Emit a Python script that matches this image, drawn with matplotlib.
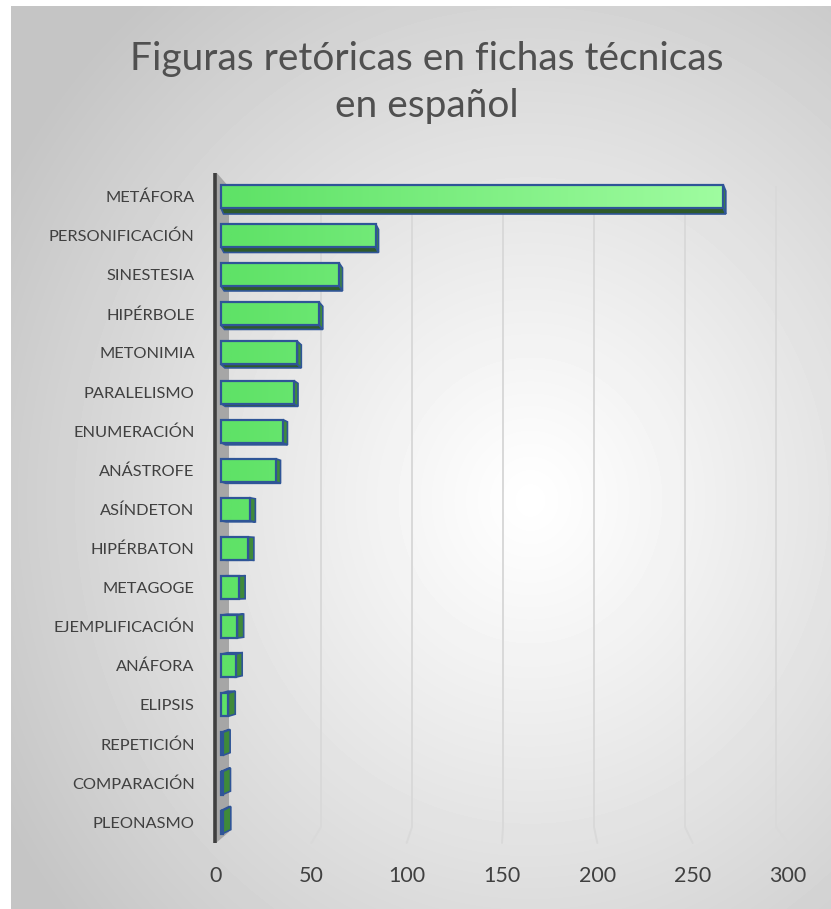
import numpy as np
import matplotlib
matplotlib.use("Agg")
import matplotlib.pyplot as plt
from matplotlib.patches import Polygon, Rectangle, ConnectionPatch
from matplotlib.colors import LinearSegmentedColormap

# ---------------- data ----------------
categories = ["METÁFORA", "PERSONIFICACIÓN", "SINESTESIA", "HIPÉRBOLE", "METONIMIA",
              "PARALELISMO", "ENUMERACIÓN", "ANÁSTROFE", "ASÍNDETON", "HIPÉRBATON",
              "METAGOGE", "EJEMPLIFICACIÓN", "ANÁFORA", "ELIPSIS", "REPETICIÓN",
              "COMPARACIÓN", "PLEONASMO"]
values = [276, 85, 65, 54, 42, 40, 34, 30, 16, 15, 10, 9, 8, 4, 1, 1, 1]
x_ticks = [0, 50, 100, 150, 200, 250, 300]
title_lines = ["Figuras retóricas en fichas técnicas", "en español"]

# ---------------- layout (pixels) ----------------
W, H = 831, 909
FONT = "Lato"
TXT = "#404040"

def frect(l, t, r, b):
    return [l / W, 1 - b / H, (r - l) / W, (b - t) / H]

fig = plt.figure(figsize=(W / 100, H / 100), dpi=100, facecolor="white")

# background radial gradient
bg = fig.add_axes(frect(11, 6, 831, 909))
yy, xx = np.mgrid[6:909, 11:831].astype(float)
r = np.sqrt(((xx - 530) / 480) ** 2 + ((yy - 500) / 520) ** 2)
val = 255 - 58 * np.clip(r / 1.25, 0, 1) ** 1.1
bg.imshow(val, cmap="gray", vmin=0, vmax=255, aspect="auto",
          extent=(11, 831, 909, 6), interpolation="bilinear")
bg.set_axis_off()

# main plot axes (wall / bar plane)
L, T, R, B = 212, 173, 800, 843
PX = 1.82        # px per unit on the wall
X0PX = 230       # pixel of value 0 on the wall
ROW0, ROWPX = 196.5, 39.1
ax = fig.add_axes(frect(L, T, R, B))
ax.patch.set_alpha(0)
for s in ax.spines.values():
    s.set_visible(False)
xlim = ((L - X0PX) / PX, (R - X0PX) / PX)
ylim = ((B - ROW0) / ROWPX, (T - ROW0) / ROWPX)

def ux(px):  # pixel x -> data x
    return (px - X0PX) / PX

def uy(py):  # pixel y -> data y
    return (py - ROW0) / ROWPX

# tick-label axes (front edge of the floor)
tax = fig.add_axes(frect(216, 843, 788, 860))
tax.patch.set_alpha(0)
for s in tax.spines.values():
    s.set_visible(False)
tax.set_xlim(0, 300)
tax.set_ylim(0, 1)
tax.set_yticks([])
tax.set_xticks(x_ticks)
tax.set_xticklabels([str(t) for t in x_ticks], fontsize=15.5, color=TXT, family=FONT)
tax.tick_params(axis="x", length=0, pad=4)

# gridlines on the wall + floor diagonals
yg_top, yg_bot = uy(186), uy(827)
for g in x_ticks[1:]:
    ax.plot([g, g], [yg_top, yg_bot], color="#D9D9D9", lw=1.4, zorder=1, solid_capstyle="butt")
    con = ConnectionPatch(xyA=(g, yg_bot), coordsA=ax.transData,
                          xyB=(g, 1), coordsB=tax.transData,
                          color="#D9D9D9", lw=1.4)
    fig.add_artist(con)

# left wall strip + axis line
wall = Polygon([(ux(216), uy(172)), (ux(229), uy(187)), (ux(229), uy(832)), (ux(216), uy(843))],
               closed=True, fc="#A6A6A6", ec="none", zorder=2)
ax.add_patch(wall)
ax.plot([ux(215), ux(215)], [uy(171), uy(843)], color="#3F3F3F", lw=2.6, zorder=6,
        solid_capstyle="butt")

# bars with pseudo-3D faces
cmap = LinearSegmentedColormap.from_list("g", ["#5FE267", "#A6FFA6"])
EDGE = "#2F5597"
h = 23 / ROWPX
off = 9 / PX
n = len(values)
for i, v in enumerate(values):
    c = i
    dxp = 2.5 + 5.5 * i / (n - 1)
    dyp = 6.0 - 10.0 * i / (n - 1)
    dx, dy = dxp / PX, dyp / ROWPX
    xf0, xf1 = -off, v - off
    yt, yb = c - h / 2, c + h / 2
    if dy > 0:
        face = Polygon([(xf0, yb), (xf1, yb), (xf1 + dx, yb + dy), (xf0 + dx, yb + dy)],
                       closed=True, fc="#2F5A2B", ec=EDGE, lw=1.2, zorder=3)
    else:
        face = Polygon([(xf0, yt), (xf1, yt), (xf1 + dx, yt + dy), (xf0 + dx, yt + dy)],
                       closed=True, fc="#4C9C45", ec=EDGE, lw=1.2, zorder=3)
    ax.add_patch(face)
    side = Polygon([(xf1, yt), (xf1 + dx, yt + dy), (xf1 + dx, yb + dy), (xf1, yb)],
                   closed=True, fc="#3F8A3A", ec=EDGE, lw=1.2, zorder=3)
    ax.add_patch(side)
    grad = np.linspace(xf0, xf1, 256)[None, :]
    ax.imshow(grad, cmap=cmap, vmin=0, vmax=300, aspect="auto",
              extent=(xf0, xf1, yb, yt), zorder=4, interpolation="bilinear")
    ax.add_patch(Rectangle((xf0, yt), xf1 - xf0, h, fill=False, ec=EDGE, lw=1.6, zorder=5))

ax.set_xlim(*xlim)
ax.set_ylim(*ylim)
ax.set_xticks([])
ax.set_yticks(range(n))
ax.set_yticklabels(categories, fontsize=11.8, color=TXT, family=FONT)
ax.tick_params(axis="y", length=0, pad=12.5)

# title
for k, line in enumerate(title_lines):
    fig.text(427 / W, 1 - (70 + 47 * k) / H, line, ha="center", va="baseline",
             fontsize=28, color="#505050", family=FONT, fontweight="normal")

fig.savefig("out.png", dpi=100, facecolor="white")
